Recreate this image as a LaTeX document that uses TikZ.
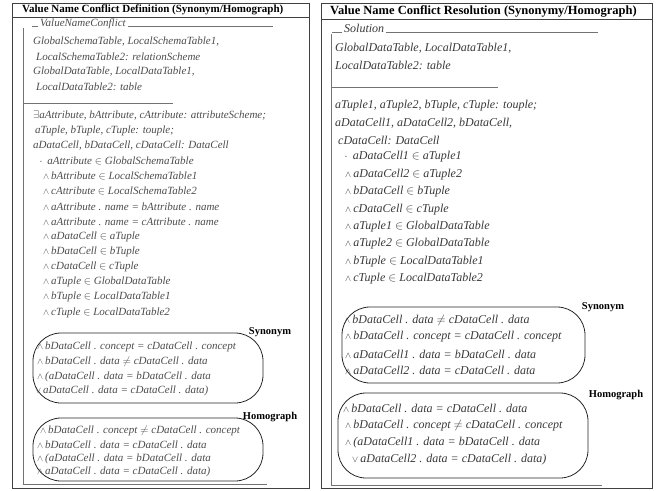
\documentclass[tikz,border=0pt]{standalone}
\usepackage{fontspec}
\setmainfont{Liberation Serif}
\usetikzlibrary{positioning}
\newcommand\wdg{{\small$\wedge$}\,}
\newcommand\vor{{\small$\vee$}\,}
\newcommand\bul{\raisebox{1pt}{\tiny\textbullet}\ \ }
\tikzset{
    % Define schema text lines
    txt/.style={
           anchor=west,
           inner sep=0pt,
           text=black!70,
           font=\fontsize{11}{13}\selectfont\itshape,},
    rtxt/.style={
           txt,
           text=black!78,
           font=\fontsize{12}{14}\selectfont\itshape,},
    % Define titles and labels
    ttl/.style={anchor=west, inner sep=0pt, font=\fontsize{11}{13}\selectfont\bfseries},
    rttl/.style={ttl, font=\fontsize{12.5}{14}\selectfont\bfseries},
    lbl/.style={inner sep=0pt, font=\fontsize{10.5}{12}\selectfont\bfseries},
    % Define lines
    frame/.style={draw=black!75, line width=0.8pt},
    zline/.style={draw=black!55, line width=0.7pt},
    oval/.style={draw=black!85, line width=0.8pt, rounded corners=28pt}
}

\begin{document}
\begin{tikzpicture}[x=1pt,y=-1pt]
  \useasboundingbox (0,0) rectangle (656,490);
  % left panel
  \draw [frame] (12,3) rectangle (309,488);
  \draw [frame] (12,17) -- (309,17);
  \node (T) at (22,10) [ttl] {Value Name Conflict Definition (Synonym/Homograph)};
  \node (N) at (40,26) [txt,anchor=base west] {ValueNameConflict};
  \draw [zline] (32,26) -- ([xshift=-2pt]N.base west);
  \draw [zline] ([xshift=2pt]N.base east) -- (273,26);
  \draw [zline] (23,28) -- (23,484) -- (267,484);
  \draw [zline] (23,103) -- (173,103);
  \node (d1) at (33,42) [txt] {GlobalSchemaTable, LocalSchemaTable1,};
  \node (d2) at (36,57) [txt] {LocalSchemaTable2: relationScheme};
  \node (d3) at (33,72) [txt] {GlobalDataTable, LocalDataTable1,};
  \node (d4) at (36,87) [txt] {LocalDataTable2: table};
  \node (e1) at (33,116) [txt] {$\exists$aAttribute, bAttribute, cAttribute: attributeScheme;};
  \node (e2) at (35,131) [txt] {aTuple, bTuple, cTuple: touple;};
  \node (e3) at (33,146) [txt] {aDataCell, bDataCell, cDataCell: DataCell};
  \node (e4) at (40,161) [txt] {\bul aAttribute $\in$ GlobalSchemaTable};
  \foreach \t [count=\i] in {bAttribute $\in$ LocalSchemaTable1, cAttribute $\in$ LocalSchemaTable2,
      aAttribute . name = bAttribute . name, aAttribute . name = cAttribute . name,
      aDataCell $\in$ aTuple, bDataCell $\in$ bTuple, cDataCell $\in$ cTuple,
      aTuple $\in$ GlobalDataTable, bTuple $\in$ LocalDataTable1, cTuple $\in$ LocalDataTable2}
    \node (c\i) at (43,161+15.15*\i) [txt] {\wdg\t};
  % synonym / homograph
  \draw [oval] (33,333) rectangle (263,403);
  \node (S) at (270,332) [lbl] {Synonym};
  \node (s1) at (37,347) [txt] {\wdg bDataCell . concept = cDataCell . concept};
  \node (s2) at (37,362) [txt] {\wdg bDataCell . data $\neq$ cDataCell . data};
  \node (s3) at (37,377) [txt] {\wdg(aDataCell . data = bDataCell . data};
  \node (s4) at (35,391) [txt] {\vor aDataCell . data = cDataCell . data)};
  \draw [oval] (33,418) rectangle (263,481);
  \node (H) at (270,417) [lbl] {Homograph};
  \node (h1) at (40,431) [txt] {\wdg bDataCell . concept $\neq$ cDataCell . concept};
  \node (h2) at (37,445) [txt] {\wdg bDataCell . data = cDataCell . data};
  \node (h3) at (37,459) [txt] {\wdg(aDataCell . data = bDataCell . data};
  \node (h4) at (37,472) [txt] {\wdg aDataCell . data = cDataCell . data)};
  % right panel
  \draw [frame] (321,3) rectangle (652,488);
  \draw [frame] (321,19) -- (652,19);
  \node (R) at (330,11) [rttl] {Value Name Conflict Resolution (Synonymy/Homograph)};
  \node (M) at (344,32) [rtxt,anchor=base west] {Solution};
  \draw [zline] (332,32) -- ([xshift=-2pt]M.base west);
  \draw [zline] ([xshift=2pt]M.base east) -- (598,32);
  \draw [zline] (331,34) -- (331,485) -- (602,485);
  \draw [zline] (331,87) -- (498,87);
  \node (g1) at (335,48) [rtxt] {GlobalDataTable, LocalDataTable1,};
  \node (g2) at (335,65) [rtxt] {LocalDataTable2: table};
  \node (f1) at (335,106) [rtxt] {aTuple1, aTuple2, bTuple, cTuple: touple;};
  \node (f2) at (335,123) [rtxt] {aDataCell1, aDataCell2, bDataCell,};
  \node (f3) at (338,140) [rtxt] {cDataCell: DataCell};
  \node (f4) at (345,157) [rtxt] {\bul aDataCell1 $\in$ aTuple1};
  \foreach \t [count=\i] in {aDataCell2 $\in$ aTuple2, bDataCell $\in$ bTuple, cDataCell $\in$ cTuple,
      aTuple1 $\in$ GlobalDataTable, aTuple2 $\in$ GlobalDataTable,
      bTuple $\in$ LocalDataTable1, cTuple $\in$ LocalDataTable2}
    \node (k\i) at (345,157+17.4*\i) [rtxt] {\wdg\t};
  % synonym / homograph
  \draw [oval] (342,307) rectangle (585,383);
  \node (S2) at (603,307) [lbl] {Synonym};
  \node (u1) at (344,320) [rtxt] {\wdg bDataCell . data $\neq$ cDataCell . data};
  \node (u2) at (345,337) [rtxt] {\wdg bDataCell . concept = cDataCell . concept};
  \node (u3) at (345,354) [rtxt] {\wdg aDataCell1 . data = bDataCell . data};
  \node (u4) at (345,370) [rtxt] {\wdg aDataCell2 . data = cDataCell . data};
  \draw [oval] (338,393) rectangle (588,478);
  \node (H2) at (616,395) [lbl] {Homograph};
  \node (v1) at (343,408) [rtxt] {\wdg bDataCell . data = cDataCell . data};
  \node (v2) at (345,426) [rtxt] {\wdg bDataCell . concept $\neq$ cDataCell . concept};
  \node (v3) at (345,443) [rtxt] {\wdg(aDataCell1 . data = bDataCell . data};
  \node (v4) at (352,460) [rtxt] {\vor aDataCell2 . data = cDataCell . data)};
\end{tikzpicture}
\end{document}
